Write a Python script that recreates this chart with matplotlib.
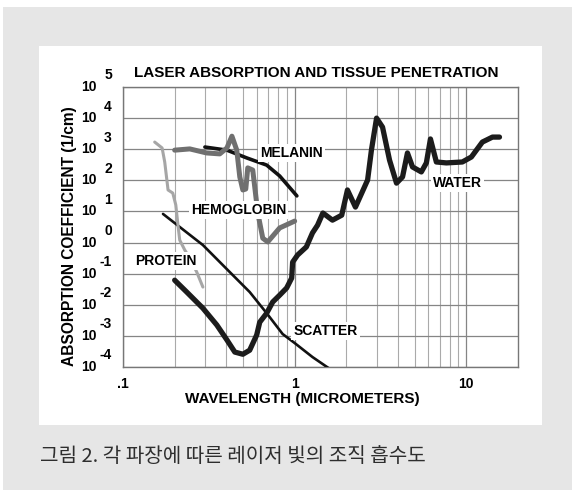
import numpy as np
import matplotlib.pyplot as plt
from matplotlib.patches import Rectangle
from matplotlib.ticker import FixedLocator, FixedFormatter, NullLocator, NullFormatter

plt.rcParams['font.family'] = ['Liberation Sans', 'DejaVu Sans']

# values: wavelength (micrometers), log10 of absorption coefficient (1/cm)
water_wl = [0.200, 0.235, 0.292, 0.352, 0.403, 0.448, 0.499, 0.547, 0.601, 0.626, 0.687,
            0.745, 0.818, 0.898, 0.961, 0.973, 1.04, 1.17, 1.27, 1.36, 1.46, 1.66, 1.88,
            2.03, 2.26, 2.66, 2.80, 3.00, 3.25, 3.57, 3.92, 4.25, 4.54, 4.86, 5.47, 5.85,
            6.18, 6.69, 7.65, 9.48, 10.7, 12.4, 14.2, 15.6]
water_exp = [-1.21, -1.59, -2.11, -2.65, -3.13, -3.52, -3.59, -3.46, -2.97, -2.56, -2.27,
             -1.91, -1.69, -1.46, -1.14, -0.63, -0.40, -0.14, 0.31, 0.56, 0.95, 0.72, 0.88,
             1.69, 1.14, 2.01, 2.97, 4.00, 3.71, 2.65, 1.91, 2.11, 2.88, 2.43, 2.27, 2.56,
             3.33, 2.59, 2.56, 2.59, 2.75, 3.23, 3.39, 3.39]

melanin_wl = [0.300, 0.403, 0.526, 0.687, 0.818, 1.03]
melanin_exp = [3.07, 2.97, 2.72, 2.49, 2.14, 1.50]

hemo_wl = [0.200, 0.245, 0.307, 0.366, 0.403, 0.431, 0.460, 0.479, 0.499, 0.519, 0.533,
           0.570, 0.610, 0.652, 0.697, 0.818, 1.00]
hemo_exp = [2.97, 3.01, 2.88, 2.85, 3.04, 3.42, 2.97, 2.11, 1.69, 1.72, 2.40,
            2.33, 0.95, 0.14, 0.02, 0.47, 0.69]

protein_wl = [0.153, 0.169, 0.175, 0.183, 0.195, 0.203, 0.209, 0.214, 0.229, 0.245, 0.269, 0.292]
protein_exp = [3.23, 3.04, 2.59, 1.69, 1.59, 1.21, 0.56, 0.08, -0.24, -0.50, -0.95, -1.43]

scatter_wl = [0.171, 0.292, 0.419, 0.547, 0.687, 0.851, 1.00, 1.27, 1.64]
scatter_exp = [0.92, -0.08, -0.95, -1.59, -2.27, -2.94, -3.23, -3.68, -4.10]

# curve labels: text, wavelength, log10 coefficient
label_text = ['MELANIN', 'HEMOGLOBIN', 'WATER', 'PROTEIN', 'SCATTER']
label_wl = [0.96, 0.472, 8.87, 0.178, 1.51]
label_exp = [2.88, 1.05, 1.91, -0.60, -2.85]

y_exps = [5, 4, 3, 2, 1, 0, -1, -2, -3, -4]
x_major = [0.1, 1, 10]
x_labels = ['.1', '1', '10']
x_minor = [0.2, 0.3, 0.4, 0.5, 0.6, 0.7, 0.8, 0.9, 2, 3, 4, 5, 6, 7, 8, 9]

W, H = 575, 496
fig = plt.figure(figsize=(W / 100, H / 100), dpi=100)
fig.patch.set_facecolor('white')


def fig_box(x0, y0, x1, y1):
    return [x0 / W, 1 - y1 / H, (x1 - x0) / W, (y1 - y0) / H]


g = fig_box(3, 7, 572, 490)
fig.patches.append(Rectangle((g[0], g[1]), g[2], g[3], transform=fig.transFigure,
                             facecolor='#e6e6e6', edgecolor='none', zorder=-3))
p = fig_box(39, 46, 542, 425)
fig.patches.append(Rectangle((p[0], p[1]), p[2], p[3], transform=fig.transFigure,
                             facecolor='white', edgecolor='none', zorder=-2))

ax = fig.add_axes(fig_box(123, 87, 518, 367))
ax.set_xscale('log')
ax.set_yscale('log')
ax.set_xlim(0.1, 20)
ax.set_ylim(1e-4, 1e5)
ax.set_facecolor('white')

ax.xaxis.set_major_locator(FixedLocator(x_major))
ax.xaxis.set_major_formatter(FixedFormatter(x_labels))
ax.xaxis.set_minor_locator(FixedLocator(x_minor))
ax.xaxis.set_minor_formatter(NullFormatter())
ax.yaxis.set_major_locator(FixedLocator([10.0 ** e for e in y_exps]))
ax.yaxis.set_major_formatter(NullFormatter())
ax.yaxis.set_minor_locator(NullLocator())
ax.tick_params(which='both', length=0)
ax.tick_params(axis='x', labelsize=10, pad=7)
for t in ax.get_xticklabels():
    t.set_fontweight('bold')

ax.set_axisbelow(True)
ax.grid(True, which='major', axis='both', color='#858585', linewidth=0.9)
ax.grid(True, which='minor', axis='x', color='#aaaaaa', linewidth=0.8)
for s in ax.spines.values():
    s.set_color('#777777')
    s.set_linewidth(1.0)

# y tick labels as "10" with raised exponent
ytr = ax.get_yaxis_transform()
for e in y_exps:
    ax.text(-0.066, 10.0 ** e, '10', transform=ytr, ha='right', va='center',
            fontsize=10, fontweight='bold', clip_on=False)
    ax.text(-0.028, 10.0 ** (e + 0.37), str(e), transform=ytr, ha='right', va='center',
            fontsize=10, fontweight='bold', clip_on=False)


def curve(wl, ex, **kw):
    ax.plot(wl, np.power(10.0, ex), solid_joinstyle='round', solid_capstyle='round', **kw)


curve(scatter_wl, scatter_exp, color='#111111', linewidth=1.9, zorder=3)
curve(protein_wl, protein_exp, color='#a6a6a6', linewidth=2.2, zorder=3)
curve(melanin_wl, melanin_exp, color='#111111', linewidth=2.6, zorder=3)
curve(hemo_wl, hemo_exp, color='#707070', linewidth=3.6, zorder=4)
curve(water_wl, water_exp, color='#1c1c1c', linewidth=3.8, zorder=5)

for txt, lw_, le in zip(label_text, label_wl, label_exp):
    ax.text(lw_, 10.0 ** le, txt, fontsize=10, fontweight='bold', ha='center', va='center',
            zorder=4.5, bbox=dict(facecolor='white', edgecolor='none', pad=1.5))

fig.text(316 / W, 1 - 73 / H, 'LASER ABSORPTION AND TISSUE PENETRATION',
         ha='center', va='center', fontsize=11, fontweight='bold')
fig.text(302 / W, 1 - 399 / H, 'WAVELENGTH (MICROMETERS)',
         ha='center', va='center', fontsize=11, fontweight='bold')
fig.text(70 / W, 1 - 236 / H, 'ABSORPTION COEFFICIENT (1/cm)', rotation=90,
         ha='center', va='center', fontsize=11.2, fontweight='bold')
fig.text(40 / W, 1 - 457 / H, '그림 2. 각 파장에 따른 레이저 빛의 조직 흡수도',
         ha='left', va='center', fontsize=14.5, color='#2e2e2e',
         family=['Noto Sans CJK KR', 'DejaVu Sans'])

fig.savefig('out.png', dpi=100)
